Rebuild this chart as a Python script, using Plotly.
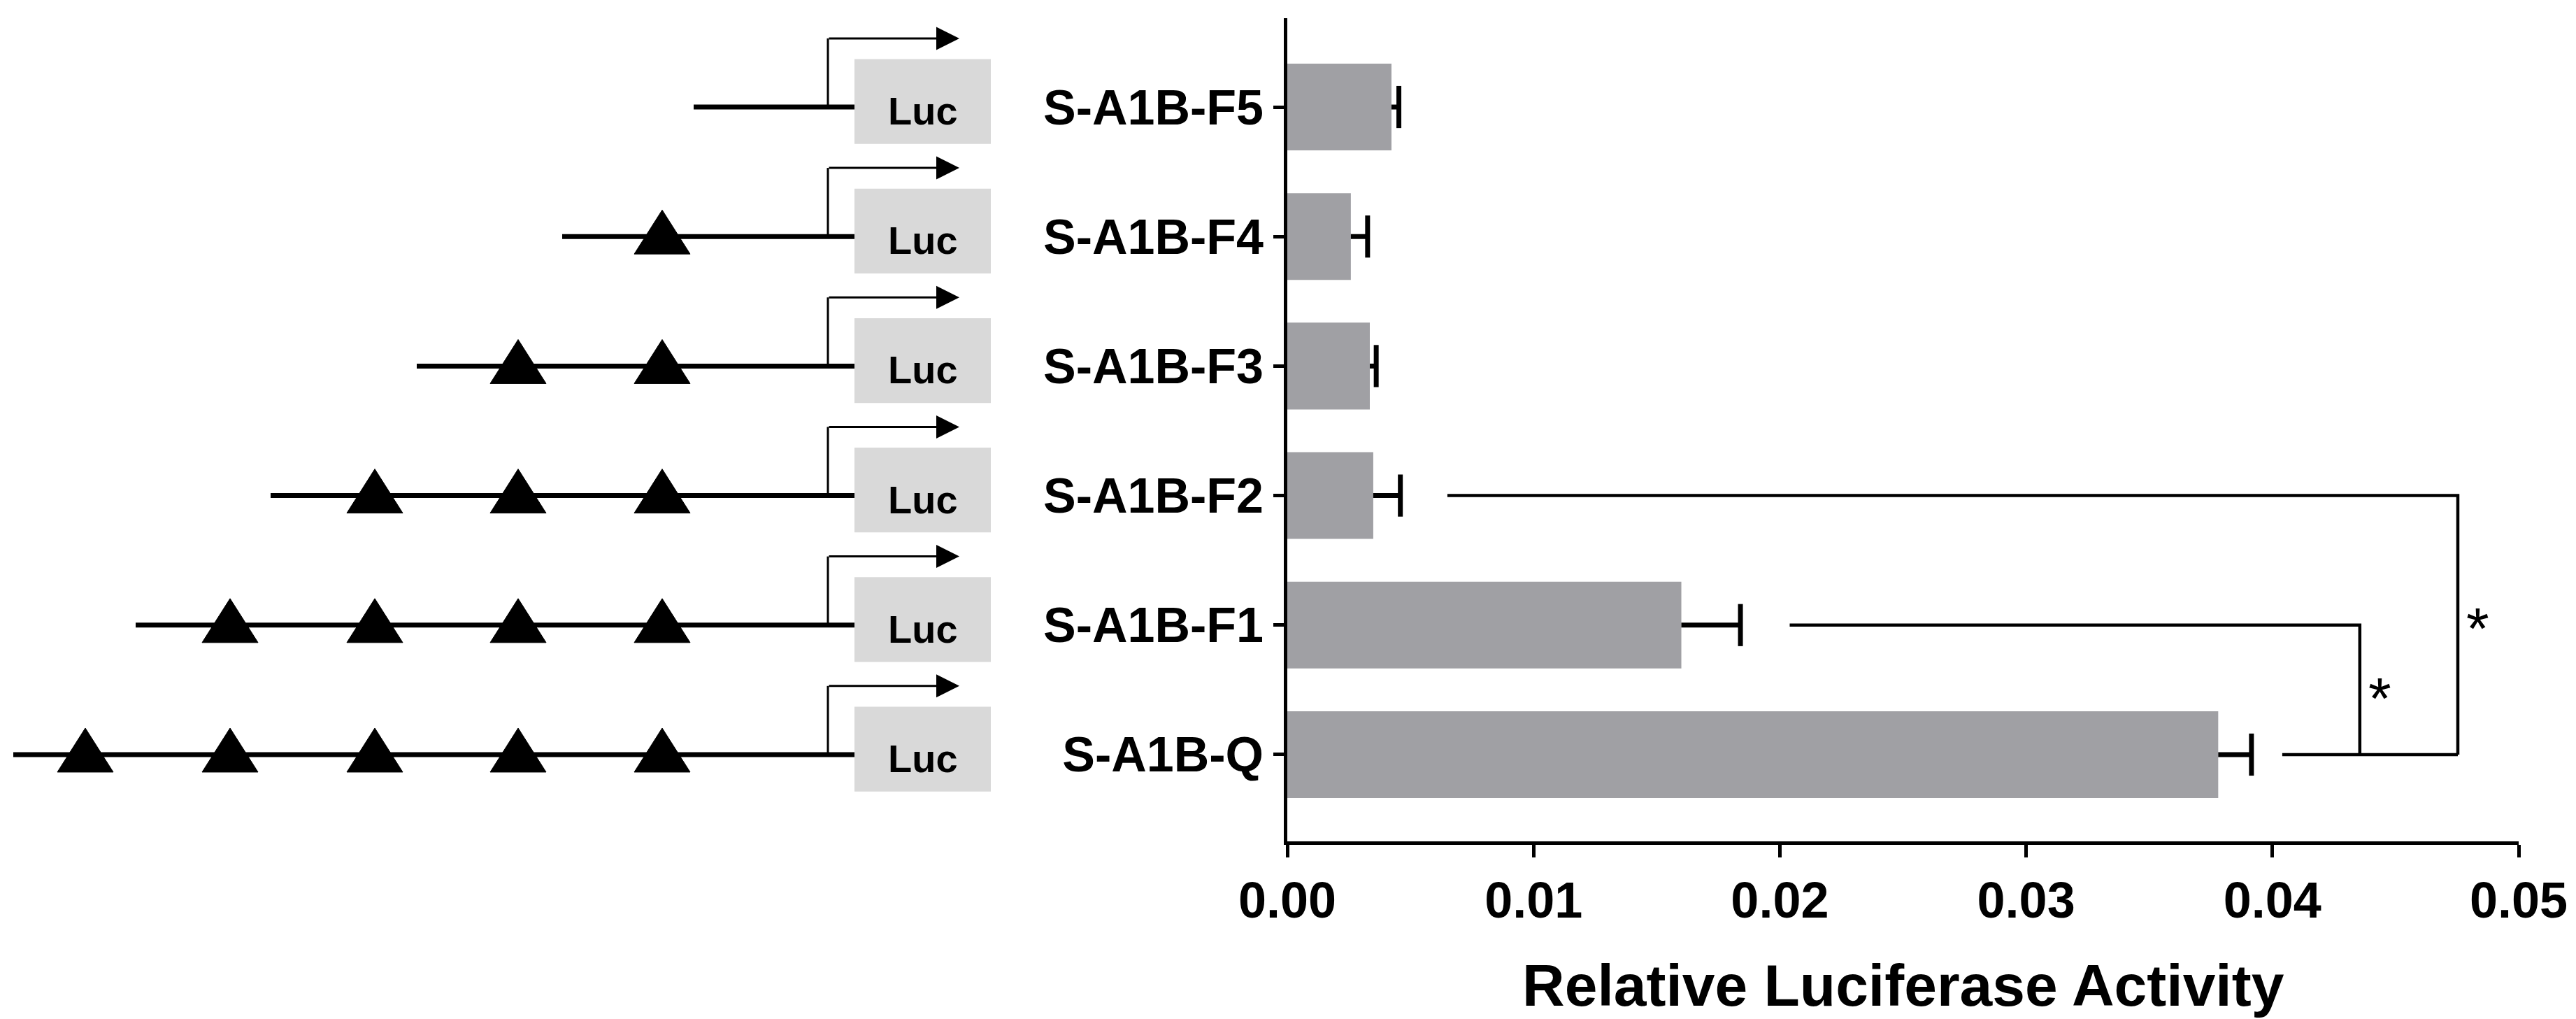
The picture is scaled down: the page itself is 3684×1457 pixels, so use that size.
import plotly.graph_objects as go

# constructs, bottom to top
constructs = ["S-A1B-Q", "S-A1B-F1", "S-A1B-F2", "S-A1B-F3", "S-A1B-F4", "S-A1B-F5"]
activity = [0.0378, 0.0160, 0.00349, 0.00335, 0.00258, 0.00423]
err = [0.00135, 0.0024, 0.0011, 0.00026, 0.00068, 0.0003]

# promoter diagram, positions relative to transcription start
construct_start = [-1165, -990, -797, -588, -380, -192]
sites = [-1062, -855, -648, -443, -237]

# significance brackets (compared against S-A1B-Q)
sig_pairs = ["S-A1B-F2", "S-A1B-F1"]
sig_line_start = [0.0065, 0.0204]
sig_bracket_x = [0.04753, 0.04355]
sig_ref_start = 0.0404
sig_star_y = [0.97, 0.43]
sig_label = ["*", "*"]

FONT = "Arial, Liberation Sans, sans-serif"
BAR_COLOR = "#a0a0a4"
LUC_COLOR = "#d9d9d9"

fig = go.Figure()

# bars
fig.add_trace(go.Bar(x=activity, y=constructs, orientation="h", width=0.67,
                     marker=dict(color=BAR_COLOR, line=dict(width=0)),
                     xaxis="x", yaxis="y"))

# error bars (positive side only)
ex, ey = [], []
for v, e, c in zip(activity, err, constructs):
    ex += [v, v + e, None]
    ey += [c, c, None]
fig.add_trace(go.Scatter(x=ex, y=ey, mode="lines", line=dict(color="black", width=7),
                         xaxis="x", yaxis="y"))
fig.add_trace(go.Scatter(x=[v + e for v, e in zip(activity, err)], y=constructs, mode="markers",
                         marker=dict(symbol="line-ns", size=43, line=dict(color="black", width=7)),
                         xaxis="x", yaxis="y"))

# brackets
for pair, x0, bx in zip(sig_pairs, sig_line_start, sig_bracket_x):
    fig.add_trace(go.Scatter(x=[x0, bx, bx], y=[pair, pair, constructs[0]], mode="lines",
                             line=dict(color="black", width=4.5), xaxis="x", yaxis="y"))
fig.add_trace(go.Scatter(x=[sig_ref_start, max(sig_bracket_x)], y=[constructs[0], constructs[0]],
                         mode="lines", line=dict(color="black", width=4.5), xaxis="x", yaxis="y"))
for bx, sy, lab in zip(sig_bracket_x, sig_star_y, sig_label):
    fig.add_annotation(x=bx + 0.0008, y=sy, xref="x", yref="y", text=lab, showarrow=False,
                       font=dict(family=FONT, size=84, color="black"), xanchor="center", yanchor="middle")

# promoter constructs
box_left, box_right = 38, 233
tss_rise = 0.53
arrow_tip = 188
tri_half_w, tri_up, tri_down = 40, 0.205, 0.135
for row, start in enumerate(construct_start):
    fig.add_trace(go.Scatter(x=[start, box_left], y=[row, row], mode="lines",
                             line=dict(color="black", width=7), xaxis="x2", yaxis="y2"))
    for s in sites:
        if s > start:
            fig.add_trace(go.Scatter(x=[s - tri_half_w, s + tri_half_w, s, s - tri_half_w],
                                     y=[row - tri_down, row - tri_down, row + tri_up, row - tri_down],
                                     mode="lines", fill="toself", fillcolor="black",
                                     line=dict(color="black", width=1), xaxis="x2", yaxis="y2"))
    fig.add_trace(go.Scatter(x=[0, 0], y=[row, row + tss_rise], mode="lines",
                             line=dict(color="black", width=3), xaxis="x2", yaxis="y2"))
    fig.add_annotation(x=arrow_tip, y=row + tss_rise, ax=0, ay=row + tss_rise,
                       xref="x2", yref="y2", axref="x2", ayref="y2", text="",
                       showarrow=True, arrowhead=2, arrowsize=2.2, arrowwidth=3, arrowcolor="black",
                       standoff=0)
    fig.add_shape(type="rect", xref="x2", yref="y2", x0=box_left, x1=box_right,
                  y0=row - 0.285, y1=row + 0.37, fillcolor=LUC_COLOR, line=dict(width=0))
    fig.add_annotation(x=(box_left + box_right) / 2, y=row - 0.03, xref="x2", yref="y2", text="Luc",
                       showarrow=False, font=dict(family=FONT, size=56, color="black", weight="bold"))

# axis title
fig.add_annotation(x=0.7366, y=0.0384, xref="paper", yref="paper", text="Relative Luciferase Activity",
                   showarrow=False, font=dict(family=FONT, size=84, color="black", weight="bold"),
                   xanchor="center", yanchor="middle")

y_range = [-0.67, 5.686]
fig.update_layout(
    template="none",
    width=3684, height=1457, autosize=False,
    margin=dict(l=0, r=0, t=0, b=0, pad=0),
    paper_bgcolor="white", plot_bgcolor="white",
    showlegend=False,
    font=dict(family=FONT, color="black"),
    xaxis=dict(domain=[0.49756, 0.97557], range=[0, 0.05], tickvals=[0, 0.01, 0.02, 0.03, 0.04, 0.05],
               tickformat=".2f", showgrid=False, zeroline=False, showline=True, linewidth=5,
               linecolor="black", ticks="outside", ticklen=18, tickwidth=5, tickcolor="black",
               tickfont=dict(family=FONT, size=72, color="black", weight="bold"), anchor="y",
               automargin=False),
    yaxis=dict(domain=[0.1798, 0.98765], type="category", categoryorder="array",
               categoryarray=constructs, range=y_range, showgrid=False, zeroline=False,
               showline=True, linewidth=5, linecolor="black", ticks="outside", ticklen=15,
               tickwidth=5, tickcolor="black",
               tickfont=dict(family=FONT, size=70, color="black", weight="bold"), anchor="x",
               automargin=False),
    xaxis2=dict(domain=[0, 0.49756], range=[-1176, 657], visible=False, anchor="y2", automargin=False),
    yaxis2=dict(domain=[0.1798, 0.98765], range=y_range, visible=False, anchor="x2", automargin=False),
)

fig.write_html("out.html")
